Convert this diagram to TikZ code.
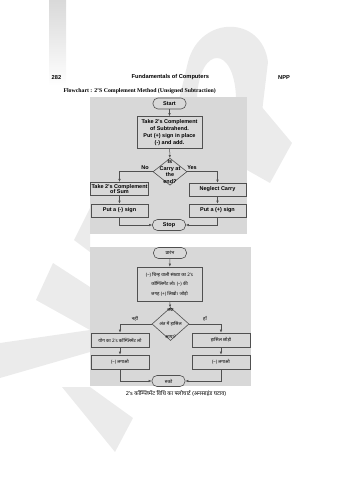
\documentclass[tikz,border=0pt]{standalone}
\usepackage{fontspec}
\setmainfont{Liberation Serif}
\setsansfont{Liberation Sans}
\newfontfamily\hindi[Script=Devanagari]{Noto Sans}
\usetikzlibrary{shapes.geometric, arrows.meta, positioning}
\definecolor{panelgray}{HTML}{D8D8D8}
\definecolor{edgegray}{HTML}{505050}
\definecolor{markgray}{HTML}{EBEBEB}

\begin{document}
\begin{tikzpicture}[x=1pt, y=-1pt,
  panel/.style  = {fill=panelgray},
  box/.style    = {draw=edgegray, fill=panelgray, line width=0.6pt,
                   inner sep=1pt, align=center,
                   font=\sffamily\bfseries\fontsize{5.5}{7}\selectfont},
  hbox/.style   = {box, font=\hindi\fontsize{4.6}{9.5}\selectfont},
  term/.style   = {box, rounded corners=5pt, minimum width=33pt,
                   minimum height=11pt},
  dec/.style    = {draw=edgegray, fill=panelgray, line width=0.6pt,
                   diamond, inner sep=0pt},
  dtext/.style  = {align=center, inner sep=0pt,
                   font=\sffamily\bfseries\fontsize{5.5}{6.4}\selectfont},
  lbl/.style    = {inner sep=0pt, font=\sffamily\bfseries\fontsize{5.5}{6}\selectfont},
  hlbl/.style   = {inner sep=0pt, font=\hindi\fontsize{4.6}{6}\selectfont},
  arr/.style    = {-{Latex[length=3pt,width=2.4pt]}, draw=edgegray, line width=0.5pt},
  hdr/.style    = {inner sep=0pt, font=\sffamily\bfseries\fontsize{5.7}{7}\selectfont}
]
\useasboundingbox (0,0) rectangle (339,480);

% Watermark
\shade[top color=gray!30, bottom color=white] (49,0) rectangle (66,86);
\fill[markgray, even odd rule] (176,112) -- (188,62) .. controls (200,15) and (262,15) .. (268,62)
  -- (262,112) -- cycle
  (197,97) .. controls (200,45) and (234,45) .. (236,97) -- cycle;
\fill[markgray] (247,100) -- (256,100) -- (292,143) -- (270,183) -- (247,170) -- cycle;
\fill[markgray] (74,240) -- (90,208) -- (90,252) -- cycle;
\fill[markgray] (36,300) -- (53,263) -- (90,287) -- (90,330) -- cycle;
\fill[markgray] (0,343) -- (90,330) -- (90,352) -- (0,378) -- cycle;
\fill[markgray] (62,387) -- (90,387) -- (133,418) -- (115,452) -- cycle;

% Header
\node[hdr] (pgno)   at (56.5,77.3) {282};
\node[hdr] (booktl) at (170.3,77.3) {Fundamentals of Computers};
\node[hdr] (pubtag) at (284,77.3) {NPP};
\node[inner sep=0pt, font=\bfseries\fontsize{5.8}{7}\selectfont] (figtl)
  at (139.7,90.7) {Flowchart : 2'S Complement Method (Unsigned Subtraction)};

% Panels
\fill[panel] (90,97) rectangle (247,234);
\fill[panel] (90,247) rectangle (251,386);

% Nodes (English)
\node[term] (start) at (169.5,103.5) {Start};
\node[box, minimum width=65pt, minimum height=32pt] (comp) at (169.5,132.5)
  {Take 2's Complement\\of Subtrahend.\\Put (+) sign in place\\(-) and add.};
\node[dec, minimum width=34pt, minimum height=27pt] (carry) at (170,171.7) {};
\node[dtext] (carrytx) at (carry) {Is\\Carry at\\the\\end?};
\node[box, minimum width=57pt, minimum height=13.5pt] (compsum) at (119.5,189)
  {Take 2's Complement\\[-1.6pt]of Sum};
\node[box, minimum width=57pt, minimum height=13pt] (neglect) at (217.5,189.5) {Neglect Carry};
\node[box, minimum width=57pt, minimum height=13pt] (minus) at (119.5,210.5) {Put a (-) sign};
\node[box, minimum width=57pt, minimum height=13pt] (plus) at (217.5,210.5) {Put a (+) sign};
\node[term] (stop) at (169,225) {Stop};
\node[lbl] (no)  at (145,168) {No};
\node[lbl] (yes) at (192,168) {Yes};

% Arrows (English)
\draw[arr] (start) -- (comp);
\draw[arr] (comp) -- (carry);
\draw[arr] (carry.west) -| (compsum.north);
\draw[arr] (carry.east) -| (neglect.north);
\draw[arr] (compsum) -- (minus);
\draw[arr] (neglect) -- (plus);
\draw[arr] (minus.south) |- (stop.west);
\draw[arr] (plus.south) |- (stop.east);

% Nodes (Hindi)
\node[term, font=\hindi\fontsize{4.6}{6}\selectfont] (hstart) at (170,253) {प्रारंभ};
\node[hbox, minimum width=65pt, minimum height=34pt] (hcomp) at (169.5,284)
  {(–) चिन्ह वाली संख्या का 2's\\कॉम्प्लिमेंट लो। (–) की\\जगह (+) लिखो। जोड़ो};
\node[dec, minimum width=37pt, minimum height=33pt] (hcarry) at (170.5,324) {};
\node[align=center, inner sep=0pt, font=\hindi\fontsize{4.6}{13.5}\selectfont] (hcarrytx)
  at (hcarry) {क्या\\अंत में हासिल\\आया?};
\node[hbox, minimum width=58pt, minimum height=14pt] (hcompsum) at (120,340)
  {योग का 2's कॉम्प्लिमेंट लो};
\node[hbox, minimum width=58pt, minimum height=14pt] (hneglect) at (221,340) {हासिल छोड़ो};
\node[hbox, minimum width=58pt, minimum height=14pt] (hminus) at (120,362) {(–) लगाओ};
\node[hbox, minimum width=58pt, minimum height=14pt] (hplus) at (221,362) {(–) लगाओ};
\node[term, font=\hindi\fontsize{4.6}{6}\selectfont] (hstop) at (168.5,381) {रुको};
\node[hlbl] (hno)  at (135,319) {नहीं};
\node[hlbl] (hyes) at (205,319) {हाँ};

% Arrows (Hindi)
\draw[arr] (hstart) -- (hcomp);
\draw[arr] (hcomp) -- (hcarry);
\draw[arr] (hcarry.west) -| (hcompsum.north);
\draw[arr] (hcarry.east) -| (hneglect.north);
\draw[arr] (hcompsum) -- (hminus);
\draw[arr] (hneglect) -- (hplus);
\draw[arr] (hminus.south) |- (hstop.west);
\draw[arr] (hplus.south) |- (hstop.east);

% Caption
\node[inner sep=0pt, font=\hindi\bfseries\fontsize{5.6}{7}\selectfont] (hcap) at (176,393)
  {2's कॉम्प्लिमेंट विधि का फ्लोचार्ट (अनसाइंड घटाव)};
\end{tikzpicture}
\end{document}
